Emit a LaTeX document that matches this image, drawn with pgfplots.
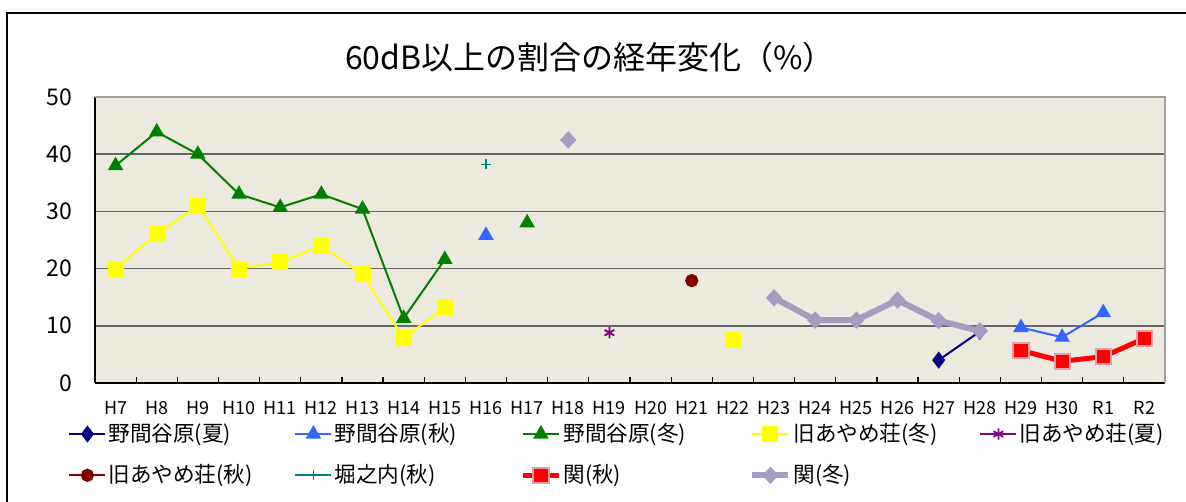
\documentclass[border=0pt]{standalone}
\usepackage{fontspec}
\setmainfont{Noto Sans CJK JP}
\usepackage{pgfplots}
\pgfplotsset{compat=1.18}
\definecolor{bg}{HTML}{ECE9DE}
\definecolor{gridc}{HTML}{666666}
\definecolor{frameg}{HTML}{A0A0A0}
\definecolor{cnavy}{HTML}{000080}
\definecolor{cblue}{HTML}{3366FF}
\definecolor{cgreen}{HTML}{008000}
\definecolor{cyellow}{HTML}{FFFF00}
\definecolor{cpurple}{HTML}{800080}
\definecolor{cdred}{HTML}{800000}
\definecolor{cteal}{HTML}{008080}
\definecolor{cred}{HTML}{FF0000}
\definecolor{cpink}{HTML}{E0A0A8}
\definecolor{clav}{HTML}{A69CC0}
\begin{document}
\begin{tikzpicture}
\path[use as bounding box] (0pt,0pt) rectangle (593pt,251pt);
\draw[line width=0.8pt] (3.5pt,0pt) -- (3.5pt,244.5pt) -- (594pt,244.5pt);
\node[font=\fontsize{16}{18}\selectfont] at (295pt,222.5pt) {60dB以上の割合の経年変化（\%）};
\begin{axis}[
  at={(47.5pt,59.5pt)}, anchor=south west, scale only axis,
  width=535pt, height=143pt,
  xmin=-0.5, xmax=25.5, ymin=0, ymax=50,
  ytick={0,10,...,50},
  xtick={0,...,25},
  xticklabels={H7,H8,H9,H10,H11,H12,H13,H14,H15,H16,H17,H18,H19,H20,H21,H22,H23,H24,H25,H26,H27,H28,H29,H30,R1,R2},
  minor xtick={0.5,1.5,...,24.5},
  major tick length=0pt, minor tick length=3pt, tick align=inside,
  minor tick style={black, line width=0.6pt},
  axis x line*=bottom, axis y line*=left,
  axis line style={black, line width=0.8pt},
  axis background/.style={fill=bg},
  ymajorgrids, grid style={gridc, line width=0.8pt},
  /pgf/number format/assume math mode=true,
  xticklabel style={font=\fontsize{9}{10}\selectfont, yshift=-5.5pt},
  yticklabel style={font=\fontsize{11.5}{12}\selectfont, xshift=-8pt},
  unbounded coords=jump,
  legend columns=5,
  legend cell align=left,
  legend style={at={(-0.0252,-0.133)}, anchor=north west, draw=none, fill=none, inner sep=0pt,
    font=\fontsize{10.8}{12}\selectfont,
    nodes={inner sep=1pt, text width=92pt},
    row sep=8pt},
  legend image code/.code={\draw[mark repeat=2,mark phase=2] plot coordinates {(0pt,0pt)(9pt,0pt)(18pt,0pt)};},
]
\addplot[cnavy, line width=1pt, mark=diamond*, mark size=3.5pt, mark options={solid, fill=cnavy}] coordinates {(20,4.0) (21,9.0)};
\addlegendentry{野間谷原(夏)}
\addplot[cblue, line width=1pt, mark=triangle*, mark size=3.5pt, mark options={fill=cblue}] coordinates {(9,25.8) (10,nan) (22,9.7) (23,8.0) (24,12.3)};
\addlegendentry{野間谷原(秋)}
\addplot[cgreen, line width=1pt, mark=triangle*, mark size=3.5pt, mark options={fill=cgreen}] coordinates {(0,38.0) (1,43.9) (2,40.0) (3,33.0) (4,30.7) (5,33.0) (6,30.4) (7,11.3) (8,21.6) (9,nan) (10,28.0)};
\addlegendentry{野間谷原(冬)}
\addplot[cyellow, line width=1pt, mark=square*, mark size=3.5pt, mark options={fill=cyellow}] coordinates {(0,20.0) (1,26.0) (2,31.0) (3,20.0) (4,21.1) (5,24.0) (6,19.0) (7,7.9) (8,13.2) (9,nan) (15,7.6)};
\addlegendentry{旧あやめ荘(冬)}
\addplot[cpurple, line width=1pt, mark=asterisk, mark size=2.8pt, mark options={line width=0.9pt}] coordinates {(12,8.8)};
\addlegendentry{旧あやめ荘(夏)}
\addplot[cdred, line width=1pt, mark=*, mark size=2.8pt, mark options={fill=cdred}] coordinates {(14,17.9)};
\addlegendentry{旧あやめ荘(秋)}
\addplot[cteal, line width=1pt, mark=+, mark size=2.5pt, mark options={line width=0.8pt}] coordinates {(9,38.2)};
\addlegendentry{堀之内(秋)}
\addplot[cred, line width=2.5pt, mark=square*, mark size=3.8pt, mark options={fill=cred, draw=cpink, line width=1pt}] coordinates {(22,5.7) (23,3.8) (24,4.6) (25,7.8)};
\addlegendentry{関(秋)}
\addplot[clav, line width=3pt, mark=diamond*, mark size=5pt, mark options={fill=clav, line width=0.5pt, yscale=0.8}] coordinates {(11,42.5) (12,nan) (16,14.9) (17,11.0) (18,11.0) (19,14.5) (20,10.9) (21,9.1)};
\addlegendentry{関(冬)}
\end{axis}
\draw[frameg, line width=1.2pt] (47.5pt,202.5pt) -- (582.5pt,202.5pt) -- (582.5pt,59.5pt);
\end{tikzpicture}
\end{document}
